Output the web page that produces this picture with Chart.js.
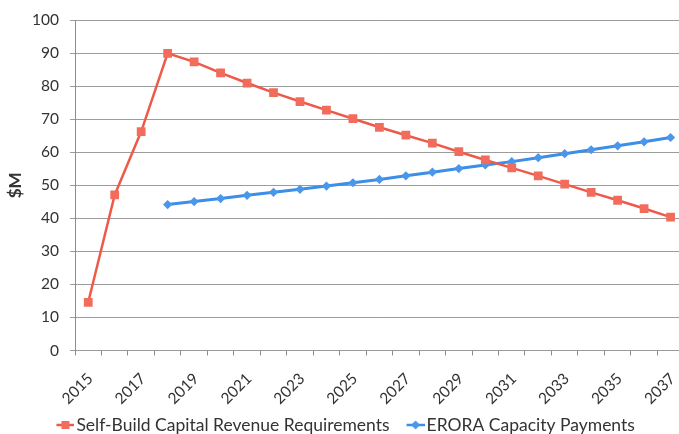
<!DOCTYPE html>
<html>
<head>
<meta charset="utf-8">
<script src="https://cdn.jsdelivr.net/npm/chart.js@4.4.1/dist/chart.umd.min.js"></script>
<style>
  html, body { margin: 0; padding: 0; background: #fff; overflow: hidden; width: 679px; height: 434px; }
  #wrap { width: 690px; height: 434px; position: relative; }
</style>
</head>
<body>
<div id="wrap"><canvas id="chart"></canvas></div>
<script>
// Annual values, $M
const years = ['2015','2016','2017','2018','2019','2020','2021','2022','2023','2024','2025',
               '2026','2027','2028','2029','2030','2031','2032','2033','2034','2035','2036','2037'];
const selfBuildRevReq = [14.6, 47.1, 66.3, 90.0, 87.4, 84.1, 81.0, 78.1, 75.4, 72.8, 70.2,
                         67.6, 65.2, 62.8, 60.2, 57.7, 55.3, 52.9, 50.4, 47.9, 45.5, 43.0, 40.4];
const eroraPayments   = [null, null, null, 44.2, 45.1, 46.0, 47.0, 47.9, 48.8, 49.8, 50.8,
                         51.8, 52.9, 54.0, 55.1, 56.2, 57.2, 58.4, 59.6, 60.8, 62.0, 63.2, 64.5];
const yAxisTitle = '$M';
const seriesNames = ['Self-Build Capital Revenue Requirements', 'ERORA Capacity Payments'];

const RED_LINE = '#ee5a4a', RED_PT = '#f26c5c';
const BLUE_LINE = '#3c8ee6', BLUE_PT = '#4996ea';
const TEXT = '#333333';
const FONT = 'Lato, "Liberation Sans", sans-serif';

// Legend swatch: short line segment with the series marker on top,
// drawn in the right-hand 18px of a 31px-wide canvas
function legendIcon(lineColor, ptColor, shape) {
  const c = document.createElement('canvas');
  c.width = 31; c.height = 12;
  const g = c.getContext('2d');
  const ox = 13;
  g.strokeStyle = lineColor; g.lineWidth = 2.5;
  g.beginPath(); g.moveTo(ox, 6); g.lineTo(ox + 18, 6); g.stroke();
  g.fillStyle = ptColor;
  if (shape === 'square') {
    g.fillRect(ox + 5, 2, 8, 8);
  } else {
    g.beginPath(); g.moveTo(ox + 9, 1.5); g.lineTo(ox + 13.5, 6); g.lineTo(ox + 9, 10.5); g.lineTo(ox + 4.5, 6); g.closePath(); g.fill();
  }
  return c;
}
const icons = [legendIcon(RED_LINE, RED_PT, 'square'), legendIcon(BLUE_LINE, BLUE_PT, 'diamond')];

new Chart(document.getElementById('chart'), {
  type: 'line',
  data: {
    labels: years,
    datasets: [
      {
        label: seriesNames[0],
        data: selfBuildRevReq,
        borderColor: RED_LINE,
        backgroundColor: RED_PT,
        borderWidth: 2.5,
        pointStyle: 'rect',
        pointRadius: 6.2,
        pointBorderWidth: 0,
        pointBackgroundColor: RED_PT,
        tension: 0
      },
      {
        label: seriesNames[1],
        data: eroraPayments,
        borderColor: BLUE_LINE,
        backgroundColor: BLUE_PT,
        borderWidth: 3,
        pointStyle: 'rectRot',
        pointRadius: 4.6,
        pointBorderWidth: 0,
        pointBackgroundColor: BLUE_PT,
        tension: 0
      }
    ]
  },
  options: {
    responsive: true,
    maintainAspectRatio: false,
    animation: false,
    layout: { padding: { top: 10.5, left: 0, right: 5, bottom: -9.75 } },
    plugins: {
      tooltip: { enabled: false },
      legend: {
        position: 'bottom',
        labels: {
          usePointStyle: true,
          pointStyleWidth: 17.5,
          padding: 10.75,
          color: TEXT,
          font: { family: FONT, size: 17.5 },
          generateLabels(chart) {
            return chart.data.datasets.map((ds, i) => ({
              text: ds.label,
              pointStyle: icons[i],
              fillStyle: ds.borderColor,
              strokeStyle: ds.borderColor,
              lineWidth: 0,
              fontColor: TEXT,
              datasetIndex: i,
              hidden: false
            }));
          }
        }
      }
    },
    scales: {
      x: {
        type: 'category',
        offset: true,
        grid: {
          offset: true,
          drawOnChartArea: false,
          drawTicks: true,
          tickLength: 5,
          color: '#8c8c8c'
        },
        border: { color: '#9a9a9a', width: 1 },
        ticks: {
          autoSkip: false,
          minRotation: 45,
          maxRotation: 45,
          padding: 14,
          labelOffset: 2,
          color: TEXT,
          font: { family: FONT, size: 15.5 },
          callback(value, index) { return index % 2 === 0 ? this.getLabelForValue(value) : ''; }
        },
        afterFit(scale) {
          scale.height = 55;
          scale.paddingLeft = 0;
          scale.paddingRight = 0;
        }
      },
      y: {
        min: 0,
        max: 100,
        ticks: {
          stepSize: 10,
          padding: 11,
          color: TEXT,
          font: { family: FONT, size: 15.5 }
        },
        grid: {
          color: '#9c9c9c',
          tickLength: 5,
          lineWidth: 1
        },
        border: { color: '#8c8c8c', width: 1 },
        title: {
          display: true,
          text: yAxisTitle,
          color: TEXT,
          font: { family: FONT, size: 17, weight: 'bold' },
          padding: { top: 5, bottom: 0 }
        },
        afterFit(scale) { scale.width = 75; }
      }
    }
  }
});
</script>
</body>
</html>
